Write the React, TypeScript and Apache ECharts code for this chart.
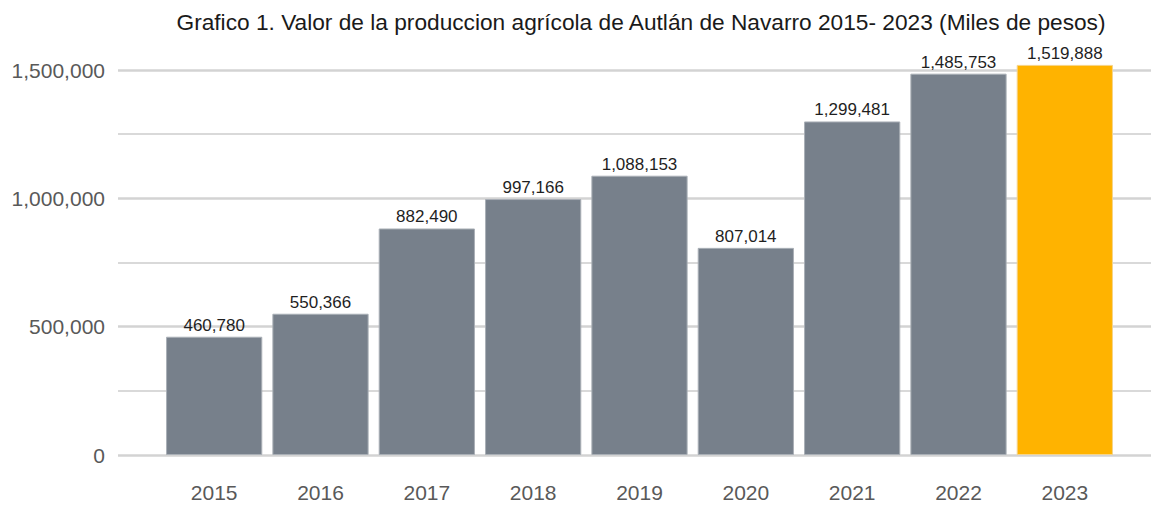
import React, { useEffect, useRef } from "react";
import * as echarts from "echarts";

const years = ["2015", "2016", "2017", "2018", "2019", "2020", "2021", "2022", "2023"];
const values = [460780, 550366, 882490, 997166, 1088153, 807014, 1299481, 1485753, 1519888];
const highlightYear = "2023";
const yMin = 0;
const yMax = 1500000;
const yInterval = 500000;
const titleText = "Grafico 1. Valor de la produccion agrícola de Autlán de Navarro 2015- 2023 (Miles de pesos)";

const fmt = (v: number) => v.toLocaleString("en-US");
const FONT = "'Liberation Sans', Arial, sans-serif";

export default function App() {
  const ref = useRef<HTMLDivElement>(null);
  useEffect(() => {
    if (!ref.current) return;
    const chart = echarts.init(ref.current, null, { renderer: "svg" });
    chart.setOption({
      animation: false,
      backgroundColor: "#ffffff",
      textStyle: { fontFamily: FONT },
      title: {
        text: titleText,
        left: 636,
        textAlign: "center",
        top: 5,
        textStyle: { fontFamily: FONT, fontSize: 22.7, fontWeight: "normal", color: "#1a1a1a" },
      },
      grid: [
        { left: 118, right: 0, top: 70, bottom: 51 },
        { left: 161, right: 33, top: 70, bottom: 51 },
      ],
      xAxis: [
        { gridIndex: 0, type: "category", show: false, data: [""] },
        {
          gridIndex: 1,
          type: "category",
          data: years,
          axisLine: { show: false },
          axisTick: { show: false },
          axisLabel: { fontFamily: FONT, fontSize: 21, color: "#595959", margin: 27 },
        },
      ],
      yAxis: [
        {
          gridIndex: 0,
          type: "value",
          min: yMin,
          max: yMax,
          interval: yInterval,
          axisLine: { show: false },
          axisTick: { show: false },
          axisLabel: {
            fontFamily: FONT,
            fontSize: 21,
            color: "#595959",
            margin: 13,
            formatter: (v: number) => fmt(v),
          },
          splitLine: { show: true, lineStyle: { color: "#d3d3d3", width: 2.5 } },
          minorTick: { show: false, splitNumber: 2 },
          minorSplitLine: { show: true, lineStyle: { color: "#cccccc", width: 1.5 } },
        },
        {
          gridIndex: 1,
          type: "value",
          min: yMin,
          max: yMax,
          show: false,
          splitLine: { show: false },
        },
      ],
      series: [
        {
          type: "bar",
          xAxisIndex: 1,
          yAxisIndex: 1,
          clip: false,
          barCategoryGap: "9.5%",
          data: years.map((y, i) => ({
            value: values[i],
            itemStyle:
              y === highlightYear
                ? { color: "#ffb300", borderColor: "#f5d48a", borderWidth: 1 }
                : { color: "#77808b", borderColor: "#a9afb6", borderWidth: 1 },
          })),
          label: {
            show: true,
            position: "top",
            distance: 3,
            fontFamily: FONT,
            fontSize: 17,
            color: "#1f1f1f",
            formatter: (p: any) => fmt(p.value),
          },
        },
      ],
    });
    return () => chart.dispose();
  }, []);
  return <div ref={ref} style={{ width: 1151, height: 506, position: "absolute", left: 0, top: 0 }} />;
}
